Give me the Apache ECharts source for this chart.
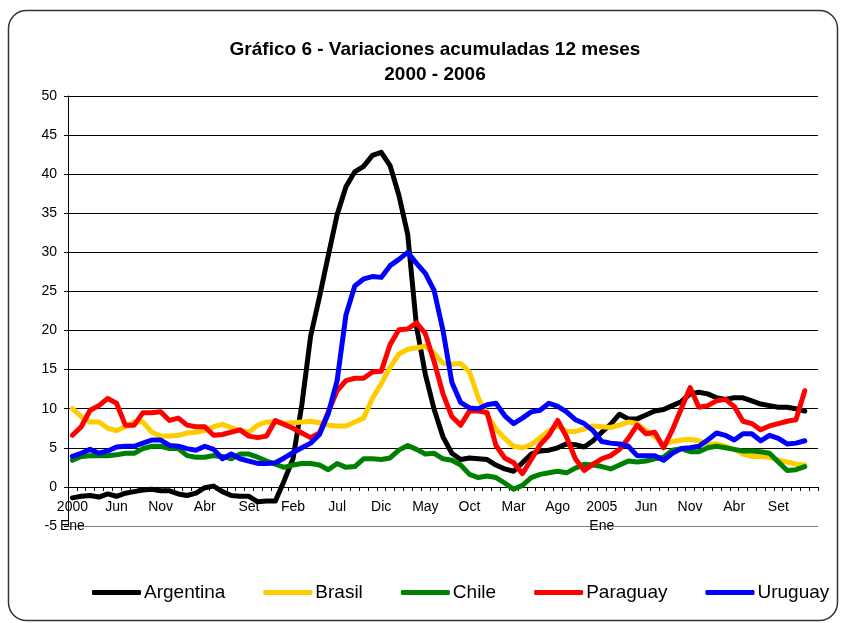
<!DOCTYPE html>
<html>
<head>
<meta charset="utf-8">
<title>Gráfico 6</title>
<script src="https://cdn.jsdelivr.net/npm/echarts@6/dist/echarts.min.js"></script>
<style>
    html, body { margin: 0; padding: 0; background: #fff; }
    #chart { width: 842px; height: 623px; }
</style>
</head>
<body>
<div id="chart"></div>
<script>
    // meses y años del eje x (Ene 2000 .. Ene 2007)
    let monthNames = ['Ene', 'Feb', 'Mar', 'Abr', 'May', 'Jun', 'Jul', 'Ago', 'Set', 'Oct', 'Nov', 'Dic']
    let years = ['2000', '2001', '2002', '2003', '2004', '2005', '2006', '2007']

    // variaciones acumuladas 12 meses (%), Ene 2000 .. Dic 2006
    let argentina = [
        -1.4, -1.2, -1.1, -1.3, -0.9, -1.2, -0.8, -0.6, -0.4, -0.3, -0.5, -0.5,
        -0.9, -1.1, -0.8, -0.1, 0.1, -0.6, -1.1, -1.2, -1.2, -1.9, -1.8, -1.8,
        0.8, 3.6, 10.5, 19.3, 24.3, 29.6, 34.8, 38.4, 40.3, 41.0, 42.4, 42.8,
        41.1, 37.3, 32.3, 20.5, 14.4, 9.9, 6.4, 4.3, 3.5, 3.7, 3.6, 3.5,
        2.8, 2.3, 2.0, 3.1, 4.2, 4.6, 4.7, 5.0, 5.5, 5.4, 5.1, 5.9,
        7.0, 8.0, 9.3, 8.7, 8.7, 9.2, 9.7, 9.9, 10.4, 10.9, 11.9, 12.1,
        11.9, 11.4, 11.2, 11.4, 11.4, 11.0, 10.6, 10.4, 10.2, 10.2, 10.0, 9.7
    ]
    let brasil = [
        10.0, 9.0, 8.3, 8.3, 7.5, 7.2, 7.7, 8.3, 8.3, 7.0, 6.5, 6.5,
        6.6, 6.9, 7.0, 7.2, 7.7, 8.0, 7.6, 7.2, 7.0, 7.9, 8.3, 8.3,
        8.1, 8.2, 8.3, 8.4, 8.2, 7.9, 7.8, 7.8, 8.3, 8.8, 11.3, 13.2,
        15.3, 17.0, 17.6, 17.8, 18.0, 17.1, 15.8, 15.7, 15.8, 14.7, 11.4, 9.2,
        7.4, 6.2, 5.2, 5.0, 5.4, 6.3, 7.2, 7.8, 7.1, 7.1, 7.4, 7.8,
        7.7, 7.6, 7.9, 8.3, 8.1, 7.2, 6.4, 5.5, 5.8, 6.0, 6.1, 5.9,
        5.5, 5.5, 5.2, 4.8, 4.2, 3.9, 3.9, 3.8, 3.4, 3.2, 2.9, 2.8
    ]
    let chile = [
        3.4, 3.9, 4.0, 4.0, 4.0, 4.1, 4.3, 4.3, 4.9, 5.2, 5.2, 4.9,
        4.9, 4.0, 3.8, 3.8, 4.0, 3.9, 3.6, 4.2, 4.2, 3.8, 3.3, 2.9,
        2.5, 2.8, 3.0, 3.0, 2.8, 2.2, 3.0, 2.5, 2.6, 3.6, 3.6, 3.5,
        3.7, 4.7, 5.3, 4.8, 4.2, 4.3, 3.6, 3.4, 2.8, 1.6, 1.2, 1.4,
        1.2, 0.5, -0.3, 0.2, 1.2, 1.6, 1.8, 2.0, 1.8, 2.4, 2.9, 2.8,
        2.6, 2.3, 2.8, 3.3, 3.2, 3.3, 3.6, 3.8, 4.7, 4.9, 4.5, 4.5,
        5.0, 5.2, 5.0, 4.8, 4.6, 4.6, 4.5, 4.3, 3.2, 2.1, 2.2, 2.6
    ]
    let paraguay = [
        6.6, 7.7, 9.8, 10.4, 11.3, 10.7, 7.9, 7.9, 9.5, 9.5, 9.6, 8.5,
        8.8, 7.9, 7.7, 7.7, 6.6, 6.7, 7.0, 7.3, 6.5, 6.3, 6.5, 8.5,
        8.0, 7.5, 6.9, 6.3, 6.9, 9.6, 12.3, 13.6, 13.9, 13.9, 14.7, 14.8,
        18.2, 20.1, 20.2, 21.0, 19.6, 16.0, 11.9, 9.0, 7.9, 9.7, 9.7, 9.5,
        5.3, 3.7, 3.1, 1.7, 3.5, 5.4, 6.6, 8.5, 6.4, 3.6, 2.1, 2.9,
        3.6, 4.0, 4.8, 6.2, 7.9, 6.8, 7.0, 5.0, 7.3, 10.0, 12.7, 10.2,
        10.4, 11.0, 11.2, 10.3, 8.4, 8.1, 7.3, 7.8, 8.1, 8.4, 8.6, 12.3
    ]
    let uruguay = [
        3.9, 4.3, 4.8, 4.3, 4.6, 5.1, 5.2, 5.2, 5.6, 6.0, 6.0, 5.3,
        5.2, 4.9, 4.7, 5.2, 4.8, 3.6, 4.2, 3.6, 3.3, 3.0, 3.0, 3.1,
        3.7, 4.4, 5.0, 5.6, 6.7, 9.4, 13.6, 22.0, 25.7, 26.6, 26.9, 26.8,
        28.3, 29.1, 30.0, 28.6, 27.3, 25.1, 20.0, 13.4, 10.8, 10.1, 10.0, 10.5,
        10.7, 9.1, 8.1, 8.8, 9.6, 9.8, 10.7, 10.3, 9.6, 8.6, 8.1, 7.2,
        5.8, 5.6, 5.5, 5.2, 4.0, 4.0, 4.0, 3.4, 4.3, 4.9, 5.0, 5.2,
        6.0, 6.9, 6.6, 6.0, 6.8, 6.8, 5.9, 6.6, 6.2, 5.5, 5.6, 5.9
    ]

    let seriesNames = ['Argentina', 'Brasil', 'Chile', 'Paraguay', 'Uruguay']
    let seriesData = [argentina, brasil, chile, paraguay, uruguay]
    let seriesColors = ['#000000', '#FFCC00', '#008000', '#FF0000', '#0000FF']

    // categorías: 85 meses, el último queda vacío
    let categories = []
    for (let i = 0; i < 85; i++) {
        categories.push(monthNames[i % 12] + ' ' + years[Math.floor(i / 12)])
    }

    let baseFont = 'Arial, "Liberation Sans", sans-serif'

    let myChart = echarts.init(document.getElementById('chart'))

    let series = seriesNames.map((name, k) => {
        return {
            name: name,
            type: 'line',
            data: seriesData[k],
            symbol: 'none',
            color: seriesColors[k],
            lineStyle: {
                width: 5,
                color: seriesColors[k],
                join: 'round',
                cap: 'round'
            }
        }
    })

    // líneas de la grilla: la de -5 en gris
    let gridColors = []
    for (let v = -5; v <= 50; v += 5) {
        gridColors.push(v === -5 ? '#808080' : '#000000')
    }

    let option = {
        animation: false,
        backgroundColor: '#ffffff',
        title: {
            text: 'Gráfico 6 - Variaciones acumuladas 12 meses\n2000 - 2006',
            left: 430,
            textAlign: 'center',
            top: 32,
            textStyle: {
                fontFamily: baseFont,
                fontSize: 19,
                fontWeight: 'bold',
                color: '#000',
                lineHeight: 25
            }
        },
        legend: {
            data: seriesNames,
            left: 87,
            top: 578,
            itemWidth: 49,
            itemHeight: 5,
            itemGap: 38,
            icon: 'roundRect',
            textStyle: {
                fontFamily: baseFont,
                fontSize: 19,
                color: '#000',
                padding: [0, 0, 0, -2]
            }
        },
        grid: {
            left: 68,
            right: 24,
            top: 96,
            bottom: 97,
            outerBoundsMode: 'none'
        },
        xAxis: {
            type: 'category',
            data: categories,
            boundaryGap: true,
            axisLine: {
                onZero: true,
                lineStyle: { color: '#000', width: 1 }
            },
            axisTick: {
                show: true,
                interval: 0,
                length: 4,
                lineStyle: { color: '#000' }
            },
            axisLabel: {
                interval: 4,
                // las etiquetas quedan en el borde inferior; se suben hasta la línea del 0
                margin: -28,
                fontFamily: baseFont,
                fontSize: 14,
                lineHeight: 19,
                color: '#000',
                formatter: function (value, index) {
                    let m = index % 12
                    if (m === 0) return years[Math.floor(index / 12)] + '\n' + monthNames[0]
                    return monthNames[m]
                }
            },
            splitLine: { show: false }
        },
        yAxis: {
            type: 'value',
            min: -5,
            max: 50,
            interval: 5,
            axisLine: {
                show: true,
                lineStyle: { color: '#000', width: 1 }
            },
            axisTick: {
                show: true,
                length: 4,
                lineStyle: { color: '#000' }
            },
            axisLabel: {
                margin: 11,
                fontFamily: baseFont,
                fontSize: 14,
                color: '#000'
            },
            splitLine: {
                show: true,
                lineStyle: { color: gridColors, width: 1 }
            }
        },
        graphic: [{
            type: 'rect',
            silent: true,
            z: -1,
            shape: { x: 8.5, y: 10.5, width: 829, height: 610, r: 18 },
            style: { fill: 'none', stroke: '#333333', lineWidth: 1.5 }
        }],
        series: series
    }

    myChart.setOption(option)
</script>
</body>
</html>
